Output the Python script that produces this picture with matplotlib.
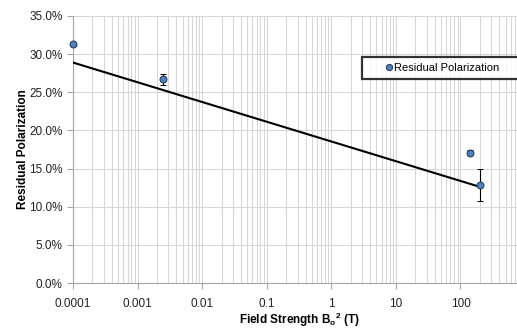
import numpy as np
import matplotlib
matplotlib.use('Agg')
import matplotlib.pyplot as plt
from matplotlib.lines import Line2D
from matplotlib.ticker import LogLocator, FuncFormatter, MultipleLocator, NullFormatter

# data
field = [1e-4, 2.5e-3, 138, 200]
polarization = [31.3, 26.7, 17.1, 12.9]   # percent
pol_err = [0.0, 0.75, 0.3, 2.1]
trend_x = [1e-4, 200]
trend_y = [28.9, 12.6]
x_ticks = [1e-4, 1e-3, 1e-2, 1e-1, 1, 10, 100]
x_labels = ['0.0001', '0.001', '0.01', '0.1', '1', '10', '100']

plt.rcParams['font.family'] = ['Liberation Sans', 'DejaVu Sans']
plt.rcParams['mathtext.fontset'] = 'custom'
plt.rcParams['mathtext.rm'] = 'Liberation Sans:bold'
plt.rcParams['mathtext.it'] = 'Liberation Sans:bold'
plt.rcParams['mathtext.bf'] = 'Liberation Sans:bold'

fig = plt.figure(figsize=(5.17, 3.29), dpi=100)
ax = fig.add_axes([73/517, 1 - 283/329, 1 - 73/517, 267/329])

ax.set_xscale('log')
ax.set_xlim(1e-4, 750)
ax.set_ylim(0, 35)

mcol = '#4F81BD'
medge = '#1f3550'
ax.plot(trend_x, trend_y, color='black', lw=1.5, zorder=3)
pts = ax.errorbar(field, polarization, yerr=pol_err, fmt='o', color=mcol,
                  mec=medge, mew=0.7, ms=5, ecolor='black', elinewidth=0.8,
                  capsize=2.5, capthick=0.8, zorder=4)
pts.lines[0].set_clip_on(False)

ax.set_xticks(x_ticks)
ax.set_xticklabels(x_labels)
ax.xaxis.set_minor_locator(LogLocator(base=10, subs=np.arange(2, 10), numticks=20))
ax.xaxis.set_minor_formatter(NullFormatter())
ax.yaxis.set_major_locator(MultipleLocator(5))
ax.yaxis.set_major_formatter(FuncFormatter(lambda v, p: '%.1f%%' % v))

ax.grid(True, which='both', axis='x', color='#d6d6d6', lw=0.75)
ax.grid(True, which='major', axis='y', color='#d6d6d6', lw=0.75)
ax.set_axisbelow(True)

for s in ['top', 'right']:
    ax.spines[s].set_visible(False)
for s in ['left', 'bottom']:
    ax.spines[s].set_color('#a6a6a6')
    ax.spines[s].set_linewidth(0.8)

ax.tick_params(axis='both', labelsize=8.5, colors='#a6a6a6', labelcolor='#222222', length=4, width=0.8)
ax.tick_params(axis='x', which='minor', length=0)
ax.tick_params(axis='x', which='major', length=4, direction='out', pad=7)

ax.set_ylabel('Residual Polarization', fontsize=8.5, fontweight='bold', labelpad=0)
ax.set_xlabel(r'Field Strength B$_{o}$$^{2}$ (T)', fontsize=8.5, fontweight='bold')
ax.xaxis.set_label_coords(0.511, -0.105)

handle = Line2D([], [], ls='none', marker='o', color=mcol, mec=medge, mew=0.7, ms=4.5)
leg = ax.legend([handle], ['Residual Polarization'], loc='lower left',
                bbox_to_anchor=(0.651, 0.764, 0.4, 0.1), mode='expand',
                frameon=True, fancybox=False, fontsize=8, handletextpad=-1.35,
                handlelength=3.7, borderpad=0.55, borderaxespad=0)
leg.get_frame().set_edgecolor('black')
leg.get_frame().set_linewidth(1.6)

fig.savefig('out.png', dpi=100)
